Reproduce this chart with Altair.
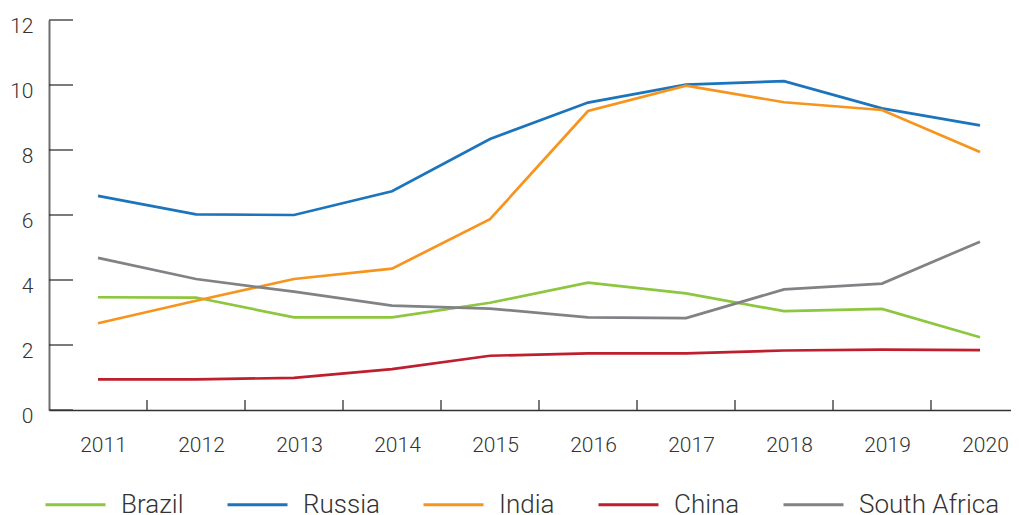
import altair as alt
import pandas as pd

years = [2011, 2012, 2013, 2014, 2015, 2016, 2017, 2018, 2019, 2020]
brazil = [3.47, 3.46, 2.85, 2.85, 3.30, 3.92, 3.59, 3.04, 3.11, 2.24]
russia = [6.59, 6.02, 6.00, 6.73, 8.34, 9.46, 10.01, 10.12, 9.28, 8.76]
india = [2.67, 3.36, 4.03, 4.35, 5.87, 9.20, 9.98, 9.47, 9.23, 7.94]
china = [0.94, 0.94, 0.99, 1.26, 1.67, 1.74, 1.74, 1.83, 1.86, 1.84]
south_africa = [4.68, 4.03, 3.64, 3.21, 3.12, 2.85, 2.83, 3.71, 3.89, 5.18]

countries = ["Brazil", "Russia", "India", "China", "South Africa"]
colors = ["#8dc63f", "#1c75bc", "#f7941d", "#be1e2d", "#808285"]
y_tick_values = [0, 2, 4, 6, 8, 10, 12]
x_boundaries = [2011.5, 2012.5, 2013.5, 2014.5, 2015.5, 2016.5, 2017.5, 2018.5, 2019.5]

series = [brazil, russia, india, china, south_africa]
rows = []
for name, vals in zip(countries, series):
    for yr, v in zip(years, vals):
        rows.append({"year": yr, "value": v, "country": name})
df = pd.DataFrame(rows)
ticks_y = pd.DataFrame({"t": y_tick_values})
ticks_x = pd.DataFrame({"b": x_boundaries})

W, H = 962, 390
FONT = "Roboto"
TXT = "#333333"

x_scale = alt.Scale(domain=[2010.5, 2010.5 + W / 98.0], nice=False, zero=False)
y_scale = alt.Scale(domain=[0, 12], nice=False, zero=True)

x_axis = alt.Axis(values=years, format="d", title=None, tickSize=0, labelPadding=24,
                  labelOffset=5, labelFlush=False, labelOverlap=False, labelBound=False,
                  grid=False, domainColor="#333333", domainWidth=1.5,
                  labelFont=FONT, labelFontWeight=300, labelFontSize=21, labelColor=TXT)
y_axis = alt.Axis(values=y_tick_values, title=None, tickSize=0, labelPadding=16,
                  labelOffset=6, labelFlush=False, labelOverlap=False, labelBound=False,
                  grid=False, domainColor="#6d6e71", domainWidth=2,
                  labelFont=FONT, labelFontWeight=300, labelFontSize=21, labelColor=TXT)

lines = alt.Chart(df).mark_line(strokeWidth=2.7).encode(
    x=alt.X("year:Q", scale=x_scale, axis=x_axis),
    y=alt.Y("value:Q", scale=y_scale, axis=y_axis),
    color=alt.Color("country:N", scale=alt.Scale(domain=countries, range=colors),
                    legend=alt.Legend(orient="none", legendX=-5, legendY=453,
                                      direction="horizontal", title=None,
                                      symbolType="stroke", symbolSize=3600,
                                      symbolStrokeWidth=3, labelFont=FONT,
                                      labelFontWeight=300, labelFontSize=26,
                                      labelColor=TXT, labelOffset=14,
                                      columnPadding=37, labelLimit=300)),
)

ytick_rules = alt.Chart(ticks_y).mark_rule(color="#333333", strokeWidth=1.3).encode(
    y=alt.Y("t:Q", scale=y_scale, axis=y_axis),
    x=alt.value(0),
    x2=alt.value(24),
)

xtick_rules = alt.Chart(ticks_x).mark_rule(color="#333333", strokeWidth=1.3).encode(
    x=alt.X("b:Q", scale=x_scale, axis=x_axis),
    y=alt.value(H - 10),
    y2=alt.value(H),
)

chart = alt.layer(ytick_rules, xtick_rules, lines).properties(
    width=W, height=H,
    padding={"left": 41, "top": 12, "right": 0, "bottom": 105},
    autosize=alt.AutoSizeParams(type="none"),
).configure(font=FONT).configure_view(stroke=None)

chart.save("out.html", embed_options={"renderer": "svg", "actions": False})
